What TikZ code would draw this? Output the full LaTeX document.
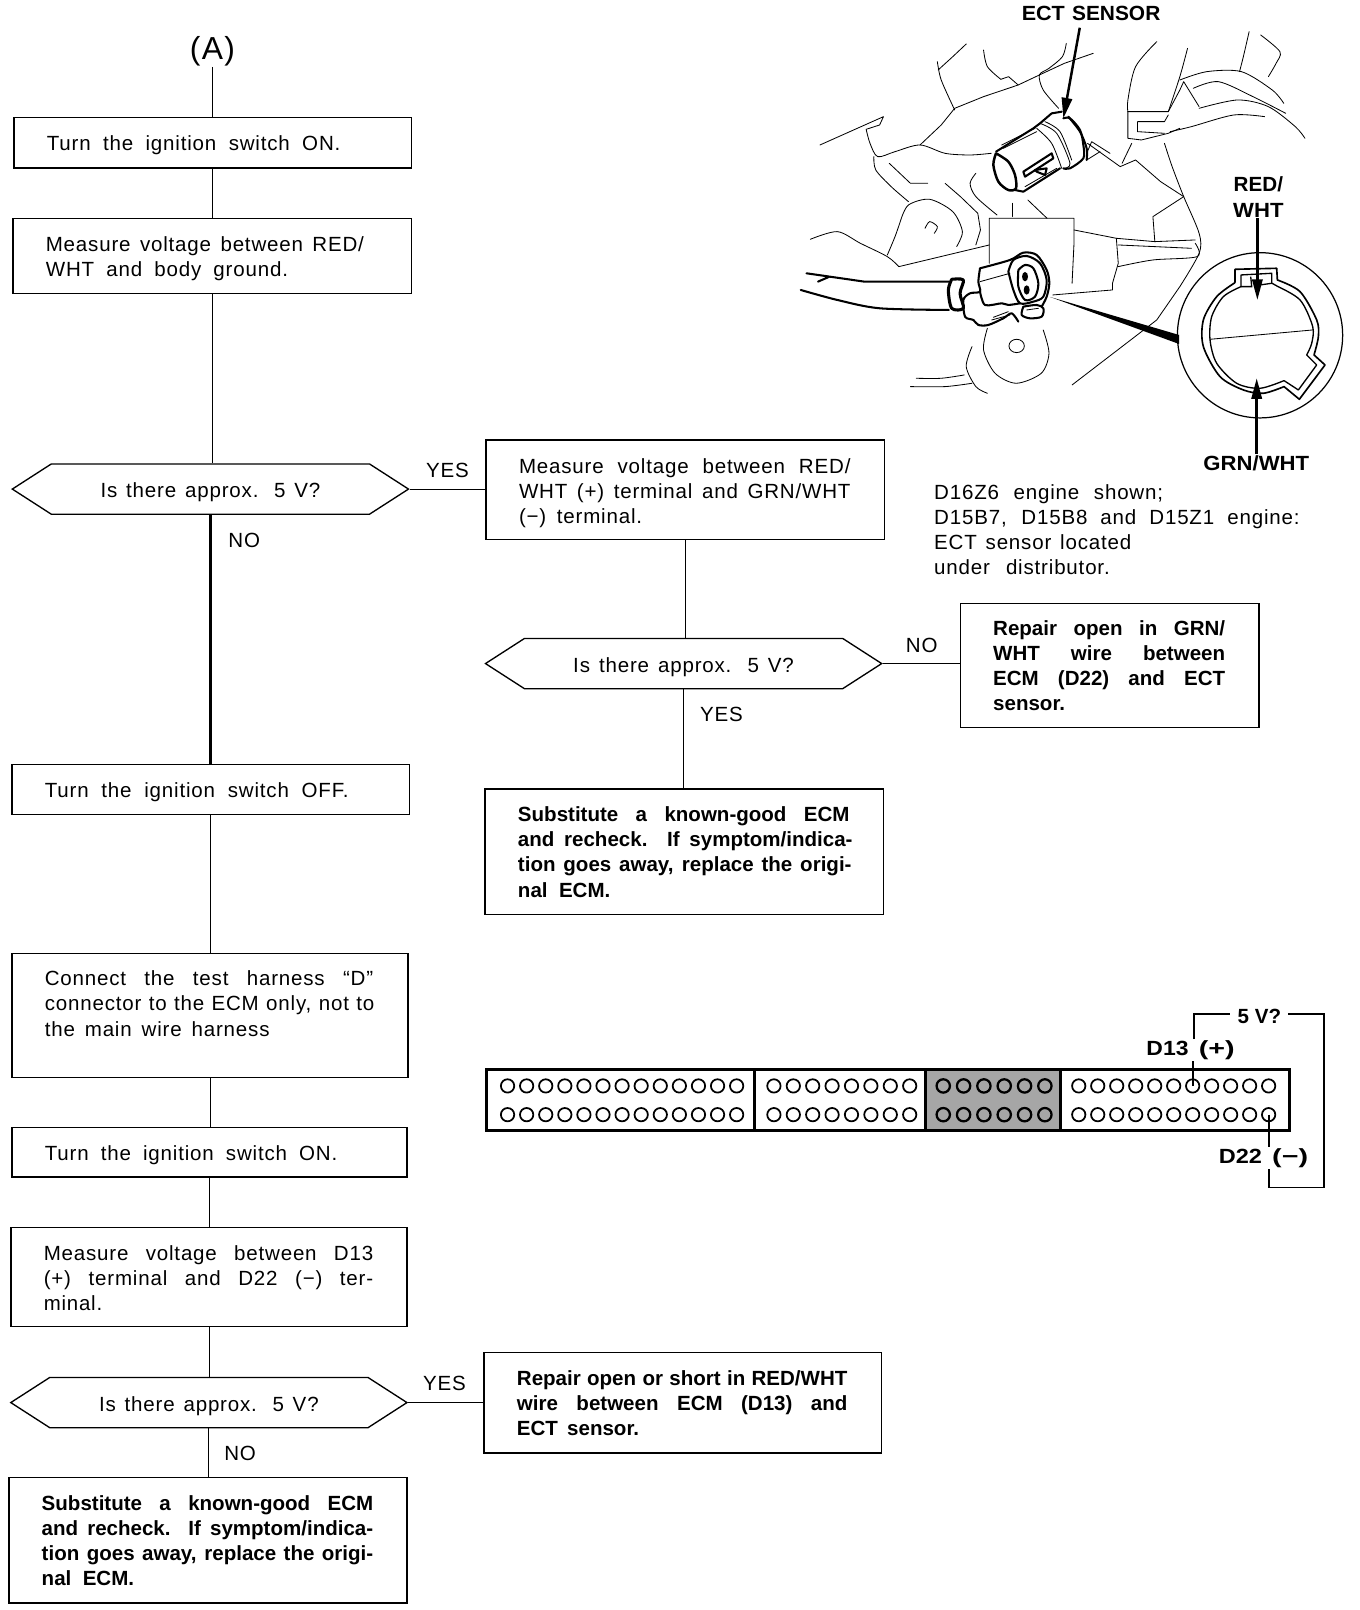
\documentclass[tikz,border=0pt]{standalone}
\usepackage{fontspec}
\usepackage{graphicx}
\setmainfont{Liberation Sans}[LetterSpace=4,BoldFeatures={LetterSpace=0}]
\usetikzlibrary{shapes.symbols,shapes.geometric,arrows.meta}
\newsavebox\tlbox
\def\tldrop{0pt}
\newcommand\tl[2]{\spaceskip=0pt\xspaceskip=0pt\relax\sbox\tlbox{#2}\raisebox{-\tldrop}[\height][\depth]{\ifdim\wd\tlbox>#1pt\relax\resizebox{#1pt}{\height}{\usebox\tlbox}\else\makebox[#1pt][s]{#2}\fi}}
\newcommand\wid[2]{\resizebox{#1pt}{\height}{#2}}
\tikzset{
 flowbox/.style={draw,line width=1.3pt,rectangle,anchor=north west,inner xsep=32pt,inner ysep=0pt,align=left,font=\fontsize{20}{24.5}\selectfont\def\tldrop{3.25pt}},
 redbox/.style={flowbox,font=\fontsize{20}{24.5}\selectfont\bfseries\def\tldrop{0.5pt}},
 hexa/.style={draw,line width=1.3pt,signal,signal to=west and east,signal pointer angle=65.6,inner sep=0pt,minimum width=386pt,minimum height=49pt,font=\fontsize{20}{24.5}\selectfont\def\tldrop{3.3pt}},
 lab/.style={font=\fontsize{20}{24.5}\selectfont,inner sep=1pt},
 blab/.style={font=\fontsize{20}{24.5}\selectfont\bfseries,inner sep=1pt,align=center},
 conn/.style={line width=1pt},
 thick conn/.style={line width=2.2pt},
 eng/.style={line width=0.8pt,line join=round,line cap=round},
 engb/.style={line width=2pt,line join=round,line cap=round},
 pin/.style={circle,draw,line width=1.7pt,minimum size=13pt,inner sep=0pt},
 barcell/.style={draw,line width=3pt,rectangle,anchor=north west,inner sep=0pt,outer sep=0pt},
 lead/.style={line width=1.8pt},
 pointer/.style={line width=2.4pt,-{Triangle[length=20pt,width=10pt]}},
}
\begin{document}
\begin{tikzpicture}[x=1pt,y=-1pt]
\useasboundingbox[fill=white] (0,0) rectangle (1325,1568.6);
% flow column
\node[font=\fontsize{31}{36}\selectfont,inner sep=1pt] (A) at (207,49.5) {(A)};
\node[flowbox,text width=323pt,minimum height=49pt] (b1) at (13,114) {\def\tldrop{2.75pt}\tl{286}{Turn the ignition switch ON.}};
\node[flowbox,text width=324pt,minimum height=73pt] (b2) at (12,212) {\tl{310}{Measure voltage between RED/}\\\tl{236}{WHT and body ground.}};
\node[hexa] (d1) at (205,476.5) {\tl{214}{Is there approx. 5 V?}};
\node[flowbox,text width=324pt,minimum height=97pt] (b3) at (473,428) {\tl{323}{Measure voltage between RED/}\\\tl{323}{WHT (+) terminal and GRN/WHT}\\\tl{120}{(−) terminal.}};
\node[hexa] (d2) at (666,646.5) {\tl{215}{Is there approx. 5 V?}};
\node[redbox,text width=227pt,minimum height=121pt] (b4) at (935,587) {\tl{226}{Repair open in GRN/}\\\tl{226}{WHT wire between}\\\tl{226}{ECM (D22) and ECT}\\\tl{72}{sensor.}};
\node[redbox,text width=324pt,minimum height=122pt] (b5) at (472,768) {\tl{323}{Substitute a known-good ECM}\\\tl{326}{and recheck. If symptom/indica-}\\\tl{325}{tion goes away, replace the origi-}\\\tl{90}{nal ECM.}};
\node[flowbox,text width=323pt,minimum height=49pt] (b6) at (11,744) {\def\tldrop{3pt}\tl{296}{Turn the ignition switch OFF.}};
\node[flowbox,text width=322pt,minimum height=121pt] (b7) at (11,928) {\def\tldrop{0.75pt}\tl{320}{Connect the test harness “D”}\\\tl{321}{connector to the ECM only, not to}\\\tl{219}{the main wire harness}\\\mbox{}};
\node[flowbox,text width=321pt,minimum height=48pt] (b8) at (11,1098) {\tl{285}{Turn the ignition switch ON.}};
\node[flowbox,text width=322pt,minimum height=97pt] (b9) at (10,1195) {\def\tldrop{1.25pt}\tl{321}{Measure voltage between D13}\\\tl{321}{(+) terminal and D22 (−) ter-}\\\tl{57}{minal.}};
\node[hexa] (d3) at (203.5,1366.5) {\tl{214}{Is there approx. 5 V?}};
\node[redbox,text width=323pt,minimum height=98pt] (b10) at (471,1317) {\tl{322}{Repair open or short in RED/WHT}\\\tl{322}{wire between ECM (D13) and}\\\tl{119}{ECT sensor.}};
\node[redbox,text width=324pt,minimum height=122pt] (b11) at (8,1439) {\tl{323}{Substitute a known-good ECM}\\\tl{323}{and recheck. If symptom/indica-}\\\tl{323}{tion goes away, replace the origi-}\\\tl{90}{nal ECM.}};
% connectors
\draw[conn] (A.south) -- (A.south |- b1.north);
\draw[conn] (b1.south) -- (b1.south |- b2.north);
\draw[conn] (b2.south) -- (b2.south |- d1.north);
\draw[thick conn] (d1.south) -- (d1.south |- b6.north);
\draw[conn] (d1.east) -- (d1.east -| b3.west);
\draw[conn] (b3.south) -- (b3.south |- d2.north);
\draw[conn] (d2.east) -- (d2.east -| b4.west);
\draw[conn] (d2.south) -- (d2.south |- b5.north);
\draw[conn] (b6.south) -- (b6.south |- b7.north);
\draw[conn] (b7.south) -- (b7.south |- b8.north);
\draw[conn] (b8.south) -- (b8.south |- b9.north);
\draw[conn] (b9.south) -- (b9.south |- d3.north);
\draw[conn] (d3.east) -- (d3.east -| b10.west);
\draw[conn] (d3.south) -- (d3.south |- b11.north);
% branch labels
\node[lab] (y1) at (436,458.5) {YES};
\node[lab] (n1) at (238,526.5) {NO};
\node[lab] (n2) at (898,629) {NO};
\node[lab] (y2) at (703,696) {YES};
\node[lab] (y3) at (433,1348) {YES};
\node[lab] (n3) at (234,1416) {NO};
% note
\node[lab,anchor=north west,align=left,inner sep=0pt] (note) at (910,471.5) {\tl{223}{D16Z6 engine shown;}\\\tl{356}{D15B7, D15B8 and D15Z1 engine:}\\\tl{192}{ECT sensor located}\\\tl{171}{under distributor.}};
% connector strip
\fill[black!35] (902,1042) rectangle (1033,1101);
\node[barcell,minimum width=782pt,minimum height=59pt] (strip) at (474,1042) {};
\draw[line width=3pt] (735,1042) -- (735,1101) (902,1042) -- (902,1101) (1033,1042) -- (1033,1101);
\foreach \r/\yy in {u/1058,l/1086}{
 \foreach \i in {0,...,12}{\node[pin] (a\r\i) at ({494.5+18.6*\i},\yy) {};}
 \foreach \i in {0,...,7}{\node[pin] (g\r\i) at ({754+18.9*\i},\yy) {};}
 \foreach \i in {0,...,5}{\node[pin,line width=2.2pt] (h\r\i) at ({919+19.8*\i},\yy) {};}
 \foreach \i in {0,...,10}{\node[pin] (k\r\i) at ({1051+18.5*\i},\yy) {};}
}
\node[blab] (d13) at (1160,1023) {\tl{86}{\wid{41}{D13} \wid{35}{(+)}}};
\node[blab,inner xsep=7pt] (fivev) at (1227,990) {5 V?};
\node[blab] (d22) at (1231,1128) {\tl{87}{\wid{42}{D22} \wid{35}{(−)}}};
\draw[lead] (ku6.center) -- (ku6.center |- d13.south);
\draw[lead] (kl10.center) -- (kl10.center |- d22.north);
\coordinate (c1) at (1163,988);
\coordinate (c2) at (1290,988);
\coordinate (c3) at (1290,1157);
\coordinate (c4) at (1236,1157);
\draw[lead] (c1 |- d13.north) -- (c1) -- (fivev.west |- c1);
\draw[lead] (fivev.east |- c2) -- (c2) -- (c3) -- (c4) -- (c4 |- d22.south);
% illustration labels
\node[blab] (ect) at (1063,13) {\tl{135}{\wid{42}{ECT} \wid{86}{SENSOR}}};
\node[blab] (rw) at (1226,192) {\wid{48}{RED/}\\\wid{49}{WHT}};
\node[blab] (gw) at (1224,451) {\wid{103}{GRN/WHT}};
\begin{scope}[shift={(737,0)},x=0.375pt,y=-0.3247pt]
\draw[eng] (545,132) -- (510,170) -- (472,210);
\draw[eng] plot[smooth] coordinates {(470,185)(480,240)(515,330)};
\draw[eng] plot[smooth] coordinates {(590,150)(600,200)(635,238)};
\draw[eng] (635,238) -- (655,230) -- (680,255) -- (735,225) -- (800,190) -- (875,160);
\draw[eng] plot[smooth] coordinates {(805,130)(795,170)(760,205)(735,225)(745,270)(785,325)};
\draw[eng] (165,435) -- (330,350) -- (320,375) -- (285,388);
\draw[eng] plot[smooth] coordinates {(285,388)(295,430)(315,470)(360,455)(425,435)(490,460)(555,465)(610,460)};
\draw[eng] (680,255) -- (590,290) -- (515,325) -- (480,375) -- (425,435);
\draw[eng] plot[smooth] coordinates {(305,470)(310,510)(350,560)(395,605)};
\draw[eng] (345,490) -- (400,550) -- (445,550) (490,550) -- (530,590) -- (575,640) -- (582,690) -- (570,735);
\draw[eng] plot[smooth] coordinates {(570,520)(555,550)(570,590)(625,645)};
\draw[eng] plot[smooth] coordinates {(375,660)(395,615)(450,598)(510,635)(535,695)(520,740)};
\draw[eng] plot[smooth] coordinates {(375,660)(360,710)(340,765)};
\draw[eng] plot[smooth] coordinates {(438,685)(450,665)(470,680)(462,700)};
\draw[eng] plot[smooth] coordinates {(140,718)(210,695)(270,730)(340,770)(370,800)};
\draw[eng] (370,800) -- (605,735);
\draw[eng] (605,790) -- (605,655) -- (825,655) -- (825,730) -- (820,850);
\draw[eng] (665,610) -- (665,650) (705,600) -- (755,655);
\draw[eng] (825,690) -- (935,715) -- (1035,725) -- (1140,720);
\draw[eng] (935,715) -- (940,790) -- (925,850) -- (925,870) -- (770,885);
\draw[eng] plot[smooth] coordinates {(940,800)(1030,780)(1145,770)(1140,730)};
\draw[eng] (940,735) -- (1130,745);
\draw[eng] (1110,590) -- (1030,650) -- (1035,725);
\draw[eng] plot[smooth] coordinates {(1040,125)(985,200)(965,300)(965,335)};
\draw[eng] plot[smooth] coordinates {(1120,145)(1100,230)(1070,335)};
\draw[eng] (965,335) -- (1070,335) -- (1100,270) -- (1110,245) -- (1150,320);
\draw[eng] (965,335) -- (965,415) -- (1000,420) -- (1070,400) -- (1100,385);
\draw[eng] (990,365) -- (1060,365) -- (1070,345) (990,365) -- (990,395) -- (1060,400);
\draw[eng] plot[smooth] coordinates {(1100,240)(1170,215)(1260,215)(1340,270)(1370,310)};
\draw[eng] plot[smooth] coordinates {(1135,265)(1200,245)(1290,290)(1375,340)};
\draw[eng] plot[smooth] coordinates {(1150,325)(1250,300)(1330,320)(1400,380)(1425,415)};
\draw[eng] plot[smooth] coordinates {(1075,395)(1130,380)(1240,345)(1320,350)};
\draw[eng] plot[smooth] coordinates {(1280,95)(1265,170)(1255,215)};
\draw[eng] plot[smooth] coordinates {(1310,105)(1360,155)(1350,190)(1330,230)};
\draw[eng] plot[smooth] coordinates {(1060,430)(1080,500)(1110,590)(1150,700)(1150,760)(1100,860)};
\draw[eng] (1100,860) -- (1040,960) -- (820,1155);
\draw[eng] (860,430) -- (945,500) -- (985,480) -- (1050,545) -- (1110,590);
\draw[eng] (975,430) -- (950,490);
% harness wires
\draw[engb] (130,820) -- (190,830) -- (280,845) -- (500,845) (160,845) -- (190,830);
\draw[engb] plot[smooth] coordinates {(115,870)(210,900)(320,925)(500,930)};
% lower pulley
\draw[eng] (676,1038) circle [x radius=20,y radius=20];
\draw[eng] plot[smooth] coordinates {(600,985)(590,1050)(620,1120)(675,1150)(740,1120)(760,1060)(745,990)};
\draw[eng] plot[smooth] coordinates {(415,1135)(480,1135)(540,1125)};
\draw[eng] plot[smooth] coordinates {(400,1160)(490,1160)(560,1150)};
\draw[eng] plot[smooth] coordinates {(560,1040)(545,1100)(570,1160)(600,1180)};
\end{scope}
% sensor (crop frame)
\begin{scope}[shift={(954.8,87.7)},x=0.32476pt,y=-0.32476pt]
\fill[white] (48,190) -- (180,100) -- (250,70) -- (320,190) -- (240,240) -- (120,305) -- (60,280) -- cycle;
\draw[engb,line width=2.4pt] plot[smooth] coordinates {(48,190)(40,225)(55,275)(85,300)(108,295)(105,255)(85,215)(48,190)};
\draw[engb] (48,185) -- (160,115) -- (180,100) (105,300) -- (130,305) -- (240,235);
\draw[eng] (65,165) -- (165,115) (70,175) -- (170,125) (135,290) -- (230,235);
\draw[eng] plot[smooth] coordinates {(170,115)(215,160)(245,235)};
\draw[engb] (180,100) -- (215,70) -- (245,65);
\draw[eng] plot[smooth] coordinates {(180,100)(230,130)(270,220)(250,235)};
\draw[eng] plot[smooth] coordinates {(195,95)(240,125)(275,210)};
\draw[engb] plot[smooth] coordinates {(250,85)(270,85)(300,120)(310,165)(310,205)(270,235)(250,235)};
\draw[engb] plot[smooth] coordinates {(265,80)(300,125)(320,175)(320,210)};
\draw[eng] (320,190) -- (335,155) -- (390,190) (320,210) -- (360,185);
\draw[engb] (130,245) -- (215,190) -- (220,205) -- (135,260) -- cycle;
\draw[engb] (165,240) -- (200,235) -- (195,255) -- (170,245) -- cycle;
\coordinate (ectend) at (250,85);
\end{scope}
% connector (crop frame)
\begin{scope}[shift={(906.1,233.8)},x=0.32476pt,y=-0.32476pt]
\fill[white] (150,85) -- (240,60) -- (280,38) -- (320,45) -- (350,90) -- (358,130) -- (335,235) -- (265,245) -- (175,255) -- (105,230) -- (100,180) -- cycle;
\draw[engb] plot[smooth] coordinates {(150,85)(240,60)(280,38)(320,45)(350,90)(358,130)(350,170)(335,200)};
\draw[engb] plot[smooth] coordinates {(265,245)(245,220)(220,235)(175,255)(145,255)(130,240)(105,230)(100,180)(120,160)(150,155)(145,125)(150,85)};
\draw[engb] plot[smooth] coordinates {(235,95)(250,60)(290,48)(330,70)(350,120)(340,170)(310,185)(270,190)(250,150)(235,95)};
\draw[engb] plot[smooth] coordinates {(265,90)(285,75)(310,85)(325,130)(315,170)(285,180)(265,140)(265,90)};
\fill (285,110) ellipse [x radius=9,y radius=14] (290,150) ellipse [x radius=9,y radius=14];
\draw[eng] (150,125) -- (240,100);
\draw[engb] plot[smooth] coordinates {(150,155)(165,195)(215,190)(235,195)(270,190)};
\draw[engb,line width=3pt] plot[smooth] coordinates {(65,118)(55,150)(65,205)(100,205)(90,160)(100,120)(65,118)};
\draw[engb] plot[smooth] coordinates {(280,200)(275,225)(300,235)(335,230)(340,205)(320,195)(280,200)};
\draw[eng] (290,210) -- (325,205) (185,240) -- (240,225) (190,232) -- (235,215);
\end{scope}
% detail view (crop frame)
\begin{scope}[shift={(1130.2,214.3)},x=0.32476pt,y=-0.32476pt]
\node[circle,draw,line width=1.2pt,minimum size=80.5pt*2,inner sep=0pt] (det) at (300,346) {};
\fill (-330,231) -- (57,345) -- (57,372) -- cycle;
\draw[line width=1.6pt,line join=round] (225,188) -- (225,148) -- (350,145) -- (352,180) -- plot[smooth] coordinates {(352,180)(420,215)(470,300)(475,350)(462,405)} -- (495,435) -- (418,538) -- (372,500) -- plot[smooth] coordinates {(372,500)(310,520)(250,510)(180,470)(130,380)(130,300)(170,230)(225,188)};
\draw[line width=1.3pt,line join=round] (243,200) -- (243,165) -- (335,160) -- (335,190) -- plot[smooth] coordinates {(335,190)(345,195)(420,240)(458,320)(455,370)(440,405)} -- (470,435) -- (415,510) -- (372,482) -- plot[smooth] coordinates {(372,482)(300,505)(230,490)(170,430)(150,360)(155,290)(190,230)(243,200)};
\draw[line width=1.3pt] (243,200) -- (275,200) -- (272,170) (300,195) -- (335,190);
\draw[eng] (150,358) -- (458,330);
\coordinate (rwend) at (292,240);
\coordinate (gwend) at (290,475);
\end{scope}
\draw[pointer] (1052,27) -- (ectend);
\draw[pointer] (rwend |- rw.south) -- (rwend);
\draw[pointer] (gwend |- gw.north) -- (gwend);
\end{tikzpicture}
\end{document}
